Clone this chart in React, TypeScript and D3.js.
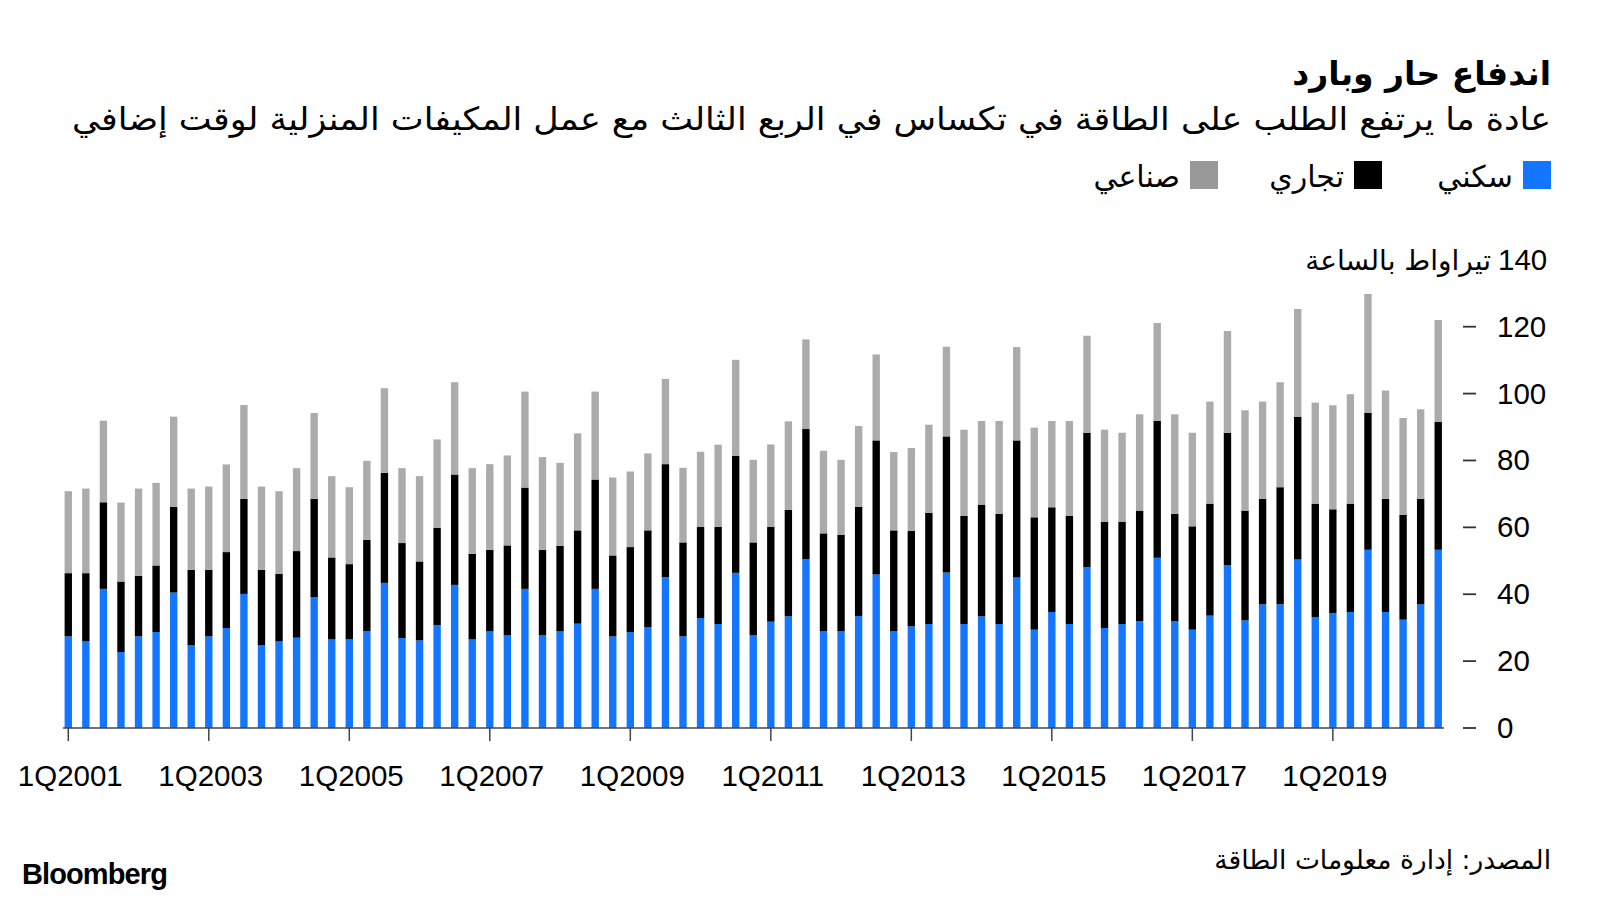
import React from "react";
import * as d3 from "d3";

// quarters 1Q2001 .. 3Q2020
const quarters: string[] = [];
for (let y = 2001; y <= 2020; y++) {
  for (let q = 1; q <= 4; q++) {
    if (y === 2020 && q > 3) break;
    quarters.push(`${q}Q${y}`);
  }
}

// terawatt hours
const residential = [
  27.4, 25.9, 41.6, 22.7, 27.4, 28.7, 40.5, 24.7, 27.4, 29.9, 40.1, 24.7,
  25.9, 27.0, 39.1, 26.5, 26.5, 29.0, 43.4, 26.9, 26.2, 30.8, 42.8, 26.5,
  28.9, 27.7, 41.6, 27.7, 29.0, 31.2, 41.6, 27.4, 28.7, 30.1, 45.1, 27.4,
  32.9, 31.1, 46.4, 27.7, 31.8, 33.4, 50.5, 29.0, 29.0, 33.5, 45.9, 29.0,
  30.4, 31.1, 46.5, 31.1, 33.4, 31.1, 45.0, 29.4, 34.7, 31.1, 48.1, 29.9,
  31.1, 32.0, 50.9, 31.9, 29.4, 33.6, 48.7, 32.2, 37.0, 37.0, 50.4, 33.2,
  34.4, 34.7, 53.3, 34.7, 32.4, 37.0, 53.3,
];
const commercial = [
  18.9, 20.4, 25.9, 21.1, 18.1, 19.9, 25.6, 22.6, 19.9, 22.7, 28.4, 22.6,
  20.2, 25.9, 29.4, 24.5, 22.5, 27.3, 32.9, 28.4, 23.6, 29.1, 33.0, 25.6,
  24.4, 26.9, 30.3, 25.6, 25.5, 27.9, 32.7, 24.2, 25.4, 29.0, 33.8, 28.1,
  27.2, 29.0, 35.0, 27.8, 28.3, 31.8, 38.9, 29.2, 28.8, 32.6, 40.1, 30.1,
  28.5, 33.2, 40.7, 32.3, 33.4, 32.9, 41.0, 33.6, 31.3, 32.3, 40.2, 31.8,
  30.6, 33.0, 40.9, 32.1, 30.9, 33.5, 39.6, 32.8, 31.5, 35.0, 42.7, 33.9,
  31.0, 32.4, 40.9, 33.8, 31.3, 31.5, 38.2,
];
const industrial = [
  24.5, 25.3, 24.4, 23.6, 26.1, 24.7, 27.0, 24.3, 24.9, 26.2, 28.1, 24.9,
  24.7, 24.8, 25.7, 24.3, 23.0, 23.6, 25.3, 22.4, 25.5, 26.4, 27.6, 25.6,
  25.6, 26.9, 28.7, 27.7, 24.8, 29.0, 26.3, 23.3, 22.6, 23.0, 25.5, 22.3,
  22.5, 24.6, 28.7, 24.7, 24.7, 26.5, 26.8, 24.7, 22.4, 24.2, 25.7, 23.4,
  24.8, 26.4, 26.8, 25.8, 25.0, 27.8, 27.9, 26.8, 25.8, 28.4, 29.0, 27.5,
  26.6, 28.8, 29.3, 29.8, 28.0, 30.5, 30.4, 30.0, 29.1, 31.4, 32.2, 30.2,
  31.1, 32.7, 35.6, 32.4, 29.0, 26.8, 30.5,
];

const seriesKeys = ["residential", "commercial", "industrial"];
const seriesNames = ["سكني", "تجاري", "صناعي"];
const seriesColors = ["#1476ff", "#000000", "#ababab"];
const legendColors = ["#1476ff", "#000000", "#999999"];

const xTickLabels = ["1Q2001", "1Q2003", "1Q2005", "1Q2007", "1Q2009", "1Q2011", "1Q2013", "1Q2015", "1Q2017", "1Q2019"];
const yTicks = [0, 20, 40, 60, 80, 100, 120];

const title = "اندفاع حار وبارد";
const subtitle = "عادة ما يرتفع الطلب على الطاقة في تكساس في الربع الثالث مع عمل المكيفات المنزلية لوقت إضافي";
const unitLabel = "تيراواط بالساعة";
const source = "المصدر: إدارة معلومات الطاقة";

const arabicFont = "'DejaVu Sans', 'Noto Sans', sans-serif";
const latinFont = "'Liberation Sans', Arial, sans-serif";

export default function App() {
  const rows = quarters.map((q, i) => ({
    quarter: q,
    residential: residential[i],
    commercial: commercial[i],
    industrial: industrial[i],
  }));
  const stacked = d3.stack<any>().keys(seriesKeys)(rows);

  const x = d3.scaleBand().domain(quarters).range([59.5, 1447]).paddingInner(0.58).paddingOuter(0.29);
  const y = d3.scaleLinear().domain([0, 120]).range([728, 326.7]);

  const bw = x.bandwidth();

  return (
    <svg width={1600} height={900} style={{ position: "absolute", left: 0, top: 0, background: "#fff" }}>
      {/* header */}
      <text x={1551} y={85} textAnchor="end" fontFamily={arabicFont} fontWeight="bold" fontSize={33} fill="#000">
        {title}
      </text>
      <text
        x={1551}
        y={130}
        textAnchor="end"
        fontFamily={arabicFont}
        fontSize={32}
        textLength={1479}
        lengthAdjust="spacingAndGlyphs"
        fill="#000"
      >
        {subtitle}
      </text>

      {/* legend */}
      {seriesNames.map((name, i) => {
        const right = [1551, 1382, 1218][i];
        return (
          <g key={name}>
            <rect x={right - 28} y={161} width={28} height={28} fill={legendColors[i]} />
            <text x={right - 38} y={187} textAnchor="end" fontFamily={arabicFont} fontSize={30} fill="#000">
              {name}
            </text>
          </g>
        );
      })}

      {/* bars */}
      {stacked.map((layer, li) => (
        <g key={layer.key} fill={seriesColors[li]}>
          {layer.map((d, i) => (
            <rect
              key={i}
              x={x(quarters[i])}
              y={y(d[1])}
              width={bw}
              height={y(d[0]) - y(d[1])}
            />
          ))}
        </g>
      ))}

      {/* x axis */}
      <line x1={63} x2={1444} y1={728} y2={728} stroke="#444" strokeWidth={1.5} />
      {xTickLabels.map((t) => {
        const cx = (x(t) ?? 0) + bw / 2;
        return (
          <g key={t}>
            <line x1={cx} x2={cx} y1={728} y2={741} stroke="#444" strokeWidth={1.5} />
            <text x={cx + 2} y={786} textAnchor="middle" fontFamily={latinFont} fontSize={29.5} fill="#000">
              {t}
            </text>
          </g>
        );
      })}

      {/* y axis */}
      {yTicks.map((t) => (
        <g key={t}>
          <line x1={1463} x2={1476} y1={y(t)} y2={y(t)} stroke="#333" strokeWidth={1.8} />
          <text x={1497} y={y(t) + 10} fontFamily={latinFont} fontSize={29.5} fill="#000">
            {t}
          </text>
        </g>
      ))}
      <text x={1498} y={y(140) + 10} fontFamily={latinFont} fontSize={29.5} fill="#000">
        140
      </text>
      <text x={1491} y={y(140) + 10} textAnchor="end" fontFamily={arabicFont} fontSize={28} fill="#000">
        {unitLabel}
      </text>

      {/* footer */}
      <text x={22} y={884} fontFamily={latinFont} fontWeight="bold" fontSize={29} letterSpacing={-0.9} fill="#000">
        Bloomberg
      </text>
      <text x={1551} y={869} textAnchor="end" fontFamily={arabicFont} fontSize={26.5} fill="#000">
        {source}
      </text>
    </svg>
  );
}
